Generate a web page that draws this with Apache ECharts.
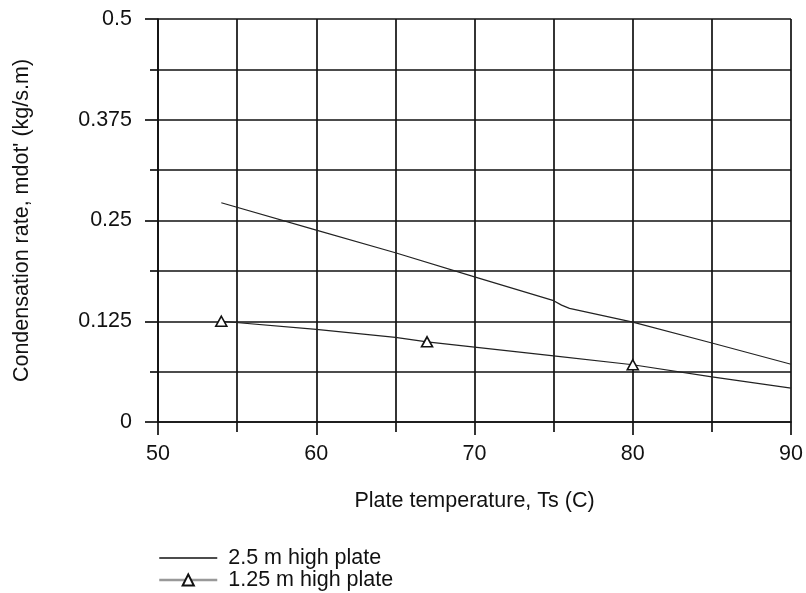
<!DOCTYPE html>
<html>
<head>
<meta charset="utf-8">
<script src="https://cdn.jsdelivr.net/npm/echarts@6/dist/echarts.min.js"></script>
<style>
html,body{margin:0;padding:0;background:#fff;}
#chart{width:806px;height:593px;}
</style>
</head>
<body>
<div id="chart"></div>
<script>
// ---- data ----
const seriesNames = ['2.5 m high plate', '1.25 m high plate'];
const temps1 = [54, 60, 65, 70, 75, 75.5, 76, 80, 85, 90];
const rate1  = [0.272, 0.238, 0.210, 0.180, 0.1505, 0.145, 0.141, 0.124, 0.098, 0.0716];
const temps2 = [54, 60, 65, 67, 70, 75, 80, 85, 90];
const rate2  = [0.125, 0.115, 0.105, 0.0995, 0.093, 0.082, 0.071, 0.056, 0.042];
const markerTemps2 = [54, 67, 80];
const xTicks = [50, 60, 70, 80, 90];
const yTicks = [0, 0.125, 0.25, 0.375, 0.5];

const FONT = 'Liberation Sans, Arial, sans-serif';
const FS = 21.5;
const INK = '#111';
const GRID = '#111';
const GW = 1.7;

const data1 = temps1.map((t, i) => [t, rate1[i]]);
const data2 = temps2.map((t, i) => ({
  value: [t, rate2[i]],
  symbol: markerTemps2.indexOf(t) >= 0 ? 'triangle' : 'none'
}));

const chart = echarts.init(document.getElementById('chart'), null, {renderer: 'canvas'});
chart.setOption({
  animation: false,
  backgroundColor: '#fff',
  textStyle: {fontFamily: FONT},
  grid: {left: 158, right: 12, top: 19, bottom: 171, containLabel: false},
  legend: {
    orient: 'vertical',
    left: 158,
    top: 547,
    padding: 0,
    itemGap: 0,
    itemWidth: 58,
    itemHeight: 14,
    textStyle: {fontSize: FS, color: INK, fontFamily: FONT, lineHeight: 21, padding: [0, 0, 0, 6]},
    data: [
      {name: seriesNames[0], lineStyle: {color: '#111', width: 1.5},
       itemStyle: {color: 'rgba(0,0,0,0)', borderColor: 'rgba(0,0,0,0)', borderWidth: 0}},
      {name: seriesNames[1], lineStyle: {color: '#999', width: 2.5}}
    ]
  },
  xAxis: {
    type: 'value',
    min: xTicks[0],
    max: xTicks[xTicks.length - 1],
    interval: xTicks[1] - xTicks[0],
    name: 'Plate temperature, Ts (C)',
    nameLocation: 'middle',
    nameGap: 68,
    nameTextStyle: {fontSize: FS, color: INK, fontFamily: FONT},
    axisLine: {show: true, lineStyle: {color: GRID, width: GW}},
    axisTick: {show: true, length: 13, lineStyle: {color: GRID, width: GW}},
    minorTick: {show: true, splitNumber: 2, length: 10, lineStyle: {color: GRID, width: GW}},
    axisLabel: {fontSize: FS, color: INK, margin: 21, fontFamily: FONT},
    splitLine: {show: true, lineStyle: {color: GRID, width: GW}},
    minorSplitLine: {show: true, lineStyle: {color: GRID, width: GW}}
  },
  yAxis: {
    type: 'value',
    min: yTicks[0],
    max: yTicks[yTicks.length - 1],
    interval: yTicks[1] - yTicks[0],
    name: "Condensation rate, mdot' (kg/s.m)",
    nameLocation: 'middle',
    nameGap: 125,
    nameTextStyle: {fontSize: FS, color: INK, fontFamily: FONT},
    axisLine: {show: true, lineStyle: {color: GRID, width: GW}},
    axisTick: {show: true, length: 13, lineStyle: {color: GRID, width: GW}},
    minorTick: {show: true, splitNumber: 2, length: 8, lineStyle: {color: GRID, width: GW}},
    axisLabel: {fontSize: FS, color: INK, margin: 26, fontFamily: FONT,
      formatter: v => String(v)},
    splitLine: {show: true, lineStyle: {color: GRID, width: GW}},
    minorSplitLine: {show: true, lineStyle: {color: GRID, width: GW}}
  },
  series: [
    {
      name: seriesNames[0],
      type: 'line',
      data: data1,
      symbol: 'none',
      smooth: false,
      lineStyle: {color: '#222', width: 1.2},
      itemStyle: {color: '#222'},
      emphasis: {disabled: true},
      z: 5
    },
    {
      name: seriesNames[1],
      type: 'line',
      data: data2,
      symbol: 'triangle',
      symbolSize: [11, 10],
      showAllSymbol: true,
      lineStyle: {color: '#222', width: 1.2},
      itemStyle: {color: '#fff', borderColor: '#111', borderWidth: 1.6},
      emphasis: {disabled: true},
      z: 6
    }
  ]
});
</script>
</body>
</html>
